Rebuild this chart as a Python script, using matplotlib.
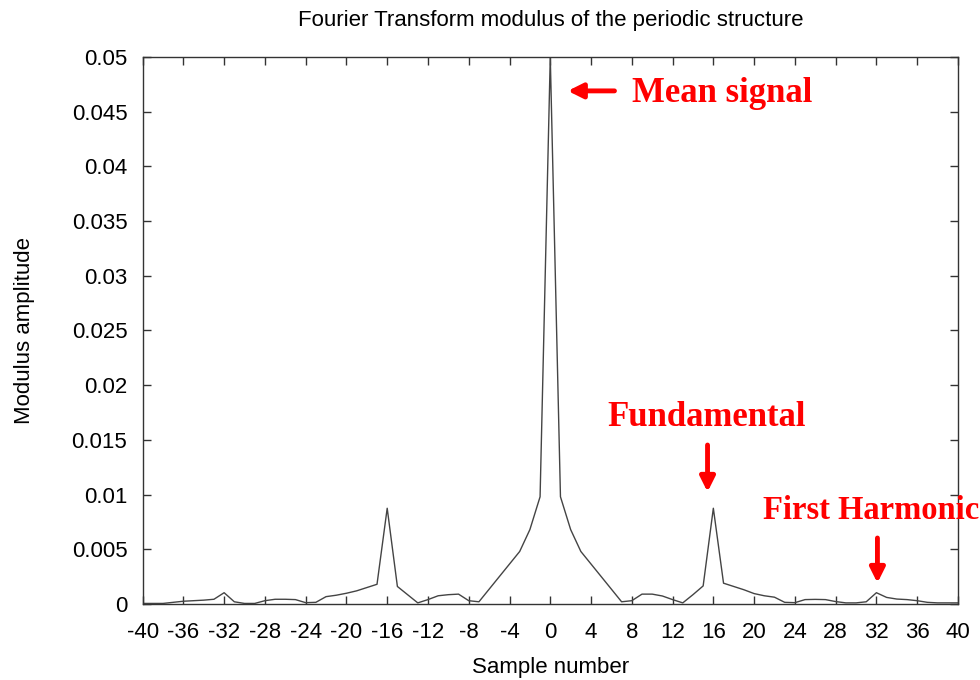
import matplotlib
matplotlib.use("Agg")
import matplotlib.pyplot as plt
import numpy as np

sample = list(range(-40, 41))
modulus = [
    0.00005, 0.00005, 0.00005, 0.00015, 0.00025, 0.0003, 0.00035, 0.00043,  # -40..-33
    0.00103, 0.0002, 0.00005, 0.00005, 0.0003, 0.00043, 0.00043, 0.0004,    # -32..-25
    0.00012, 0.00015, 0.00067, 0.0008, 0.00098, 0.0012, 0.0015, 0.0018,     # -24..-17
    0.00875, 0.0016, 0.00085, 0.0001, 0.0004, 0.00075, 0.00085, 0.0009,     # -16..-9
    0.0003, 0.0002, 0.00135, 0.0025, 0.00365, 0.0048, 0.0068, 0.0098,       # -8..-1
    0.05,                                                                   # 0
    0.0098, 0.0068, 0.0048, 0.00365, 0.0025, 0.00135, 0.0002, 0.0003,       # 1..8
    0.0009, 0.0009, 0.00073, 0.0004, 0.0001, 0.00085, 0.00165, 0.00875,     # 9..16
    0.0019, 0.0016, 0.0013, 0.00095, 0.00075, 0.00062, 0.00015, 0.00012,    # 17..24
    0.0004, 0.00042, 0.0004, 0.00022, 0.0001, 0.0001, 0.0002, 0.00103,      # 25..32
    0.0006, 0.00045, 0.0004, 0.0003, 0.00015, 0.0001, 0.0001, 0.0001,       # 33..40
]
x_ticks = list(range(-40, 41, 4))
y_ticks = [0, 0.005, 0.01, 0.015, 0.02, 0.025, 0.03, 0.035, 0.04, 0.045, 0.05]
y_tick_labels = ["0", "0.005", "0.01", "0.015", "0.02", "0.025", "0.03", "0.035", "0.04", "0.045", "0.05"]

title = "Fourier Transform modulus of the periodic structure"
xlabel = "Sample number"
ylabel = "Modulus amplitude"

plt.rcParams['font.family'] = ['Liberation Sans', 'DejaVu Sans']
plt.rcParams['axes.unicode_minus'] = False

fig = plt.figure(figsize=(9.8, 6.8), dpi=100)
ax = fig.add_axes([0.1455, 0.1118, 0.832, 0.8044])

ax.plot(sample, modulus, color='#444444', lw=1.0)
ax.set_xlim(-40, 40)
ax.set_ylim(0, 0.05)
ax.set_xticks(x_ticks)
ax.set_yticks(y_ticks)
ax.set_yticklabels(y_tick_labels)
ax.tick_params(direction='in', length=6, width=1, top=True, right=True,
               labelsize=16, color='#333333')
ax.tick_params(axis='x', pad=13)
ax.tick_params(axis='y', pad=11)
for s in ax.spines.values():
    s.set_color('#333333')
    s.set_linewidth(1.0)

ax.set_title(title, fontsize=16, pad=22)
ax.set_xlabel(xlabel, fontsize=16, labelpad=10)
ax.set_ylabel(ylabel, fontsize=16, labelpad=26)

red = '#ff0000'
serif = dict(family='Liberation Serif', weight='bold', color=red)
arrow = dict(arrowstyle='-|>', color=red, lw=3.5, mutation_scale=22, shrinkA=0, shrinkB=0)

ax.annotate('', xy=(1.72, 0.0469), xytext=(6.3, 0.0469), arrowprops=arrow)
ax.text(8.0, 0.0467, 'Mean signal', ha='left', va='center', fontsize=25, **serif)

ax.annotate('', xy=(15.43, 0.01024), xytext=(15.43, 0.01453), arrowprops=arrow)
ax.text(15.3, 0.0170, 'Fundamental', ha='center', va='center', fontsize=25, **serif)

ax.annotate('', xy=(32.1, 0.00192), xytext=(32.1, 0.00603), arrowprops=arrow)
ax.text(20.9, 0.00859, 'First Harmonic', ha='left', va='center', clip_on=False,
        fontsize=23.5, **serif)

fig.savefig('out.png', dpi=100)
